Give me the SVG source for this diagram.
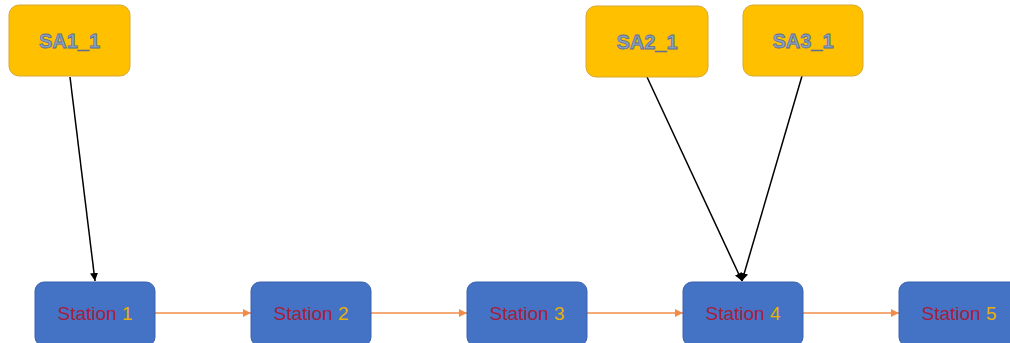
<svg xmlns="http://www.w3.org/2000/svg" width="1010" height="343" viewBox="0 0 1010 343">
<style>
.sa rect{fill:#FFC000;stroke:#D9A82E;stroke-width:1}
.sa text{font-family:"Liberation Sans",Arial,sans-serif;font-weight:bold;font-size:20px;fill:#8EA2C2;stroke:#5B6F93;stroke-width:0.8;text-anchor:middle;dominant-baseline:central}
.st rect{fill:#4472C4;stroke:#3A63AD;stroke-width:1}
.st text{font-family:"Liberation Sans",Arial,sans-serif;font-size:19px;fill:#A51F3C;text-anchor:middle;dominant-baseline:central}
.st tspan{fill:#E8B000}
.blk{stroke:#000;stroke-width:1.5;fill:none}
.org{stroke:#F08C48;stroke-width:1.3;fill:none}
</style>
<defs>
<marker id="ab" viewBox="0 0 10 10" refX="10" refY="5" markerWidth="8" markerHeight="8" markerUnits="userSpaceOnUse" orient="auto"><path d="M0,0 L10,5 L0,10 z" fill="#000"/></marker>
<marker id="ao" viewBox="0 0 10 10" refX="10" refY="5" markerWidth="8" markerHeight="8" markerUnits="userSpaceOnUse" orient="auto"><path d="M0,0 L10,5 L0,10 z" fill="#F08C48"/></marker>
</defs>
<g id="connectors">
<line class="blk" x1="70" y1="77" x2="95" y2="281" marker-end="url(#ab)"/>
<line class="blk" x1="647" y1="77" x2="742" y2="281" marker-end="url(#ab)"/>
<line class="blk" x1="802" y1="76" x2="742" y2="281" marker-end="url(#ab)"/>
<line class="org" x1="155" y1="313" x2="251" y2="313" marker-end="url(#ao)"/>
<line class="org" x1="371" y1="313" x2="467" y2="313" marker-end="url(#ao)"/>
<line class="org" x1="587" y1="313" x2="683" y2="313" marker-end="url(#ao)"/>
<line class="org" x1="803" y1="313" x2="899" y2="313" marker-end="url(#ao)"/>
</g>
<g id="SA1_1" class="sa"><rect x="9" y="5" width="121" height="71" rx="10"/><text x="69.5" y="41">SA1_1</text></g>
<g id="SA2_1" class="sa"><rect x="586" y="6" width="122" height="71" rx="10"/><text x="647" y="42">SA2_1</text></g>
<g id="SA3_1" class="sa"><rect x="743" y="5" width="120" height="71" rx="10"/><text x="803" y="41">SA3_1</text></g>
<g id="station1" class="st"><rect x="35" y="282" width="120" height="64" rx="9"/><text x="95" y="313">Station <tspan>1</tspan></text></g>
<g id="station2" class="st"><rect x="251" y="282" width="120" height="64" rx="9"/><text x="311" y="313">Station <tspan>2</tspan></text></g>
<g id="station3" class="st"><rect x="467" y="282" width="120" height="64" rx="9"/><text x="527" y="313">Station <tspan>3</tspan></text></g>
<g id="station4" class="st"><rect x="683" y="282" width="120" height="64" rx="9"/><text x="743" y="313">Station <tspan>4</tspan></text></g>
<g id="station5" class="st"><rect x="899" y="282" width="120" height="64" rx="9"/><text x="959" y="313">Station <tspan>5</tspan></text></g>
</svg>
